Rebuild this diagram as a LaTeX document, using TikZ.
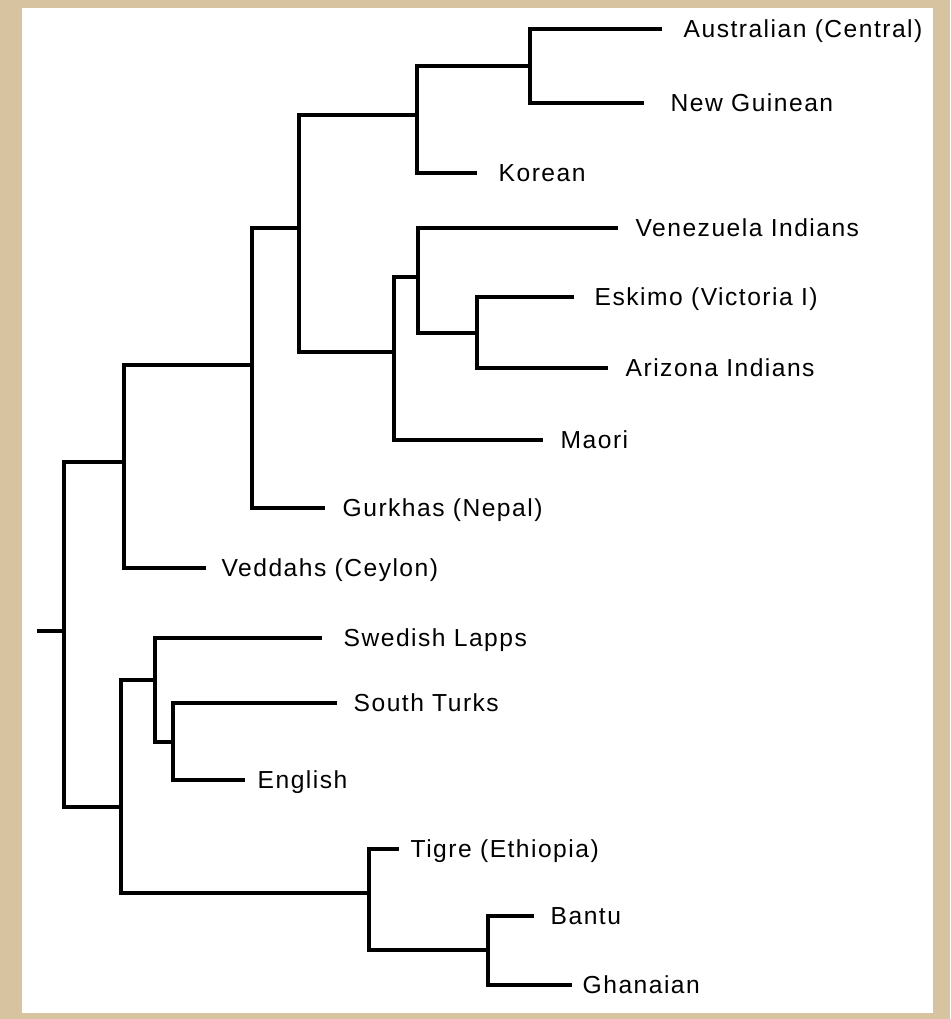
\documentclass[tikz,border=0pt]{standalone}
\usepackage{fontspec}
\newfontfamily\taxonfont{Liberation Sans}[LetterSpace=6]
\definecolor{papertan}{RGB}{216,195,160}
\tikzset{
  taxon/.style={anchor=base west, inner sep=0pt, yshift=-2.5pt, font=\taxonfont\fontsize{7}{8}\selectfont},
  branch/.style={line width=0.9pt, line cap=rect}
}
\begin{document}
\begin{tikzpicture}[x=0.01cm, y=-0.01cm]
      \fill[papertan] (0,0) rectangle (950,1019);
      \fill[white] (22,8) rectangle (933,1013);
      % leaf ends
      \draw
        (660,29) coordinate (aus)
        (642,103) coordinate (ngu)
        (475,173) coordinate (kor)
        (616,228) coordinate (ven)
        (572,297) coordinate (esk)
        (606,368) coordinate (ari)
        (541,440) coordinate (mao)
        (323,508) coordinate (gur)
        (204,568) coordinate (ved)
        (320,638) coordinate (swe)
        (335,703) coordinate (tur)
        (243,780) coordinate (eng)
        (397,849) coordinate (tig)
        (532,916) coordinate (ban)
        (570,985) coordinate (gha);
      % forks
      \draw
        (39,631) coordinate (root)
        (64,631) coordinate (jR)
        (124,462) coordinate (jH)
        (252,365) coordinate (jG)
        (299,228) coordinate (jF)
        (417,115) coordinate (jB)
        (530,66) coordinate (jA)
        (394,352) coordinate (jE)
        (418,277) coordinate (jD)
        (477,333) coordinate (jC)
        (121,807) coordinate (jK)
        (155,680) coordinate (jL)
        (173,742) coordinate (jM)
        (369,893) coordinate (jN)
        (488,950) coordinate (jO);
      % labels
      \node[taxon] (Laus) at (683,29) {Australian (Central)};
      \node[taxon] (Lngu) at (670,103) {New Guinean};
      \node[taxon] (Lkor) at (498,173) {Korean};
      \node[taxon] (Lven) at (635,228) {Venezuela Indians};
      \node[taxon] (Lesk) at (594,297) {Eskimo (Victoria I)};
      \node[taxon] (Lari) at (625,368) {Arizona Indians};
      \node[taxon] (Lmao) at (560,440) {Maori};
      \node[taxon] (Lgur) at (342,508) {Gurkhas (Nepal)};
      \node[taxon] (Lved) at (221,568) {Veddahs (Ceylon)};
      \node[taxon] (Lswe) at (343,638) {Swedish Lapps};
      \node[taxon] (Ltur) at (353,703) {South Turks};
      \node[taxon] (Leng) at (257,780) {English};
      \node[taxon] (Ltig) at (410,849) {Tigre (Ethiopia)};
      \node[taxon] (Lban) at (550,916) {Bantu};
      \node[taxon] (Lgha) at (582,985) {Ghanaian};
      \begin{scope}[branch]
        \draw (root) to (jR);
        \draw (jR) |- (jH);
        \draw (jR) |- (jK);
        \draw (jH) |- (jG);
        \draw (jH) |- (ved);
        \draw (jG) |- (jF);
        \draw (jG) |- (gur);
        \draw (jF) |- (jB);
        \draw (jF) |- (jE);
        \draw (jB) |- (jA);
        \draw (jB) |- (kor);
        \draw (jA) |- (aus);
        \draw (jA) |- (ngu);
        \draw (jE) |- (jD);
        \draw (jE) |- (mao);
        \draw (jD) |- (ven);
        \draw (jD) |- (jC);
        \draw (jC) |- (esk);
        \draw (jC) |- (ari);
        \draw (jK) |- (jL);
        \draw (jK) |- (jN);
        \draw (jL) |- (swe);
        \draw (jL) |- (jM);
        \draw (jM) |- (tur);
        \draw (jM) |- (eng);
        \draw (jN) |- (tig);
        \draw (jN) |- (jO);
        \draw (jO) |- (ban);
        \draw (jO) |- (gha);
      \end{scope}
    \end{tikzpicture}
\end{document}
